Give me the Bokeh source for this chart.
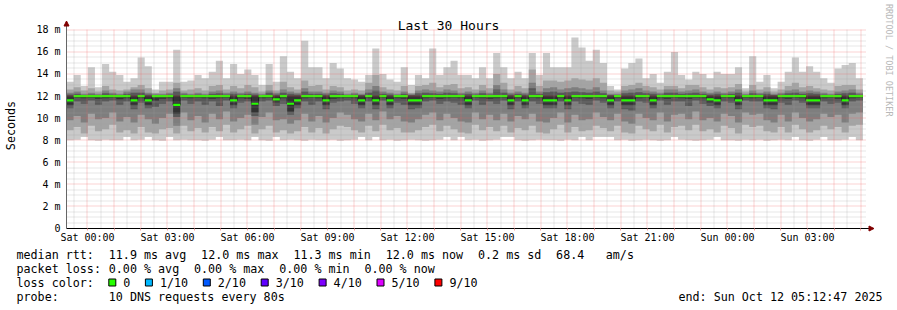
import numpy as np
from bokeh.plotting import figure
from bokeh.models import Range1d, FixedTicker, Arrow, NormalHead
from bokeh.core.properties import value
from bokeh.embed import file_html
from bokeh.resources import INLINE

# ---------------- data (hours relative to Sat 00:00) ----------------
END_HOURS = 29 + 12 / 60 + 47 / 3600          # Sun 05:12:47
START_HOURS = END_HOURS - 30                   # last 30 hours
STEP_HOURS = 16 / 60                           # one consolidated column

x_tick_hours = [0, 3, 6, 9, 12, 15, 18, 21, 24, 27]
x_tick_labels = ["Sat 00:00", "Sat 03:00", "Sat 06:00", "Sat 09:00", "Sat 12:00",
                 "Sat 15:00", "Sat 18:00", "Sat 21:00", "Sun 00:00", "Sun 03:00"]
y_tick_values = [0, 2, 4, 6, 8, 10, 12, 14, 16, 18]
y_tick_labels = ["0", "2 m", "4 m", "6 m", "8 m", "10 m", "12 m", "14 m", "16 m", "18 m"]

# sorted ping rtts per column (ms), p01 = fastest ... p10 = slowest
rtt_p10 = [13.3, 13.9, 12.9, 14.6, 12.8, 14.9, 14.2, 13.9, 13.3, 13.6, 15.5, 14.7, 12.6, 13.3, 13.3, 16.2,
           13.3, 13.4, 13.9, 13.6, 14.2, 15.2, 13.6, 14.9, 14.0, 14.4, 13.9, 13.0, 14.9, 13.3, 15.6, 14.2,
           13.6, 17.0, 14.6, 14.6, 13.6, 15.0, 14.5, 13.6, 13.5, 13.3, 13.9, 16.3, 14.0, 13.5, 13.3, 14.6,
           13.0, 13.9, 13.6, 16.3, 13.9, 14.6, 15.2, 13.9, 13.9, 13.6, 14.6, 13.6, 15.9, 14.6, 13.6, 14.2,
           13.6, 15.9, 13.9, 15.9, 14.6, 14.6, 14.6, 17.3, 16.4, 15.2, 16.2, 15.0, 12.9, 12.6, 14.5, 15.0,
           15.4, 13.6, 14.0, 13.2, 14.2, 16.0, 13.9, 13.5, 14.2, 14.0, 13.6, 14.2, 14.0, 14.0, 14.6, 12.7,
           15.6, 13.3, 13.9, 12.7, 13.3, 14.2, 15.5, 14.2, 14.7, 14.2, 13.6, 13.2, 14.5, 14.8, 15.0, 13.6]
rtt_p09 = [12.6, 12.8, 12.5, 12.7, 12.4, 12.9, 12.6, 12.5, 12.6, 12.8, 13.0, 12.7, 12.3, 12.5, 12.6, 13.2,
           12.5, 12.6, 12.7, 12.5, 12.9, 13.0, 12.6, 12.9, 12.7, 13.0, 12.8, 12.4, 13.0, 12.5, 13.3, 12.8,
           12.6, 13.4, 12.9, 13.0, 12.6, 12.9, 12.8, 12.5, 12.6, 12.5, 13.2, 13.9, 12.8, 12.6, 12.5, 12.9,
           12.3, 12.9, 13.0, 13.2, 12.8, 13.0, 13.1, 12.7, 12.8, 12.6, 13.0, 12.7, 14.0, 13.2, 12.6, 12.9,
           12.7, 14.4, 12.9, 13.4, 13.4, 13.3, 13.4, 13.6, 13.5, 13.4, 13.6, 13.2, 12.5, 12.4, 12.9, 13.0,
           13.2, 12.9, 12.8, 12.6, 12.9, 12.9, 12.7, 13.0, 13.0, 12.8, 12.6, 12.8, 12.7, 12.8, 13.1, 12.4,
           13.0, 12.6, 12.8, 12.4, 12.6, 12.9, 13.2, 12.8, 12.9, 12.7, 12.6, 12.5, 12.9, 13.0, 13.0, 12.6]
rtt_p08 = [12.3, 12.4, 12.2, 12.3, 12.2, 12.5, 12.3, 12.2, 12.4, 12.6, 12.6, 12.3, 12.2, 12.2, 12.3, 12.7,
           12.3, 12.2, 12.3, 12.2, 12.4, 12.5, 12.3, 12.4, 12.3, 12.4, 12.3, 12.2, 12.5, 12.3, 12.6, 12.4,
           12.3, 12.7, 12.4, 12.4, 12.3, 12.5, 12.4, 12.2, 12.3, 12.2, 12.6, 12.9, 12.4, 12.3, 12.2, 12.4,
           12.2, 12.5, 12.6, 12.5, 12.4, 12.6, 12.5, 12.3, 12.4, 12.3, 12.5, 12.3, 13.0, 12.6, 12.3, 12.4,
           12.3, 13.2, 12.4, 12.7, 12.8, 12.6, 12.7, 12.8, 12.7, 12.6, 12.8, 12.5, 12.2, 12.2, 12.5, 12.6,
           12.7, 12.5, 12.4, 12.3, 12.6, 12.6, 12.4, 12.5, 12.6, 12.4, 12.3, 12.4, 12.3, 12.4, 12.6, 12.2,
           12.5, 12.3, 12.4, 12.2, 12.3, 12.5, 12.6, 12.4, 12.5, 12.4, 12.3, 12.2, 12.4, 12.5, 12.6, 12.3]
rtt_p07 = [12.15, 12.2, 12.1, 12.15, 12.1, 12.25, 12.15, 12.1, 12.2, 12.3, 12.3, 12.15, 12.1, 12.1, 12.15, 12.4,
           12.15, 12.1, 12.15, 12.1, 12.2, 12.25, 12.15, 12.2, 12.15, 12.2, 12.15, 12.1, 12.3, 12.15, 12.3, 12.2,
           12.15, 12.4, 12.2, 12.2, 12.15, 12.25, 12.2, 12.1, 12.15, 12.1, 12.3, 12.5, 12.2, 12.15, 12.1, 12.2,
           12.1, 12.25, 12.3, 12.25, 12.2, 12.3, 12.25, 12.15, 12.2, 12.15, 12.25, 12.15, 12.6, 12.3, 12.15, 12.2,
           12.15, 12.7, 12.2, 12.35, 12.4, 12.3, 12.35, 12.4, 12.35, 12.3, 12.4, 12.25, 12.1, 12.1, 12.25, 12.3,
           12.35, 12.25, 12.2, 12.15, 12.3, 12.3, 12.2, 12.25, 12.3, 12.2, 12.15, 12.2, 12.15, 12.2, 12.3, 12.1,
           12.25, 12.15, 12.2, 12.1, 12.15, 12.25, 12.3, 12.2, 12.25, 12.2, 12.15, 12.1, 12.2, 12.25, 12.3, 12.15]
rtt_p06 = [12.05, 12.05, 12.05, 12.05, 12.05, 12.05, 12.05, 12.05, 12.05, 12.05, 12.05, 12.05, 12.05, 12.05, 12.05, 12.05,
           12.05, 12.05, 12.05, 12.05, 12.05, 12.05, 12.05, 12.05, 12.05, 12.05, 12.05, 12.05, 12.05, 12.05, 12.05, 12.05,
           12.05, 12.05, 12.05, 12.05, 12.05, 12.05, 12.05, 12.05, 12.05, 12.05, 12.05, 12.05, 12.05, 12.05, 12.05, 12.05,
           12.05, 12.05, 12.05, 12.05, 12.05, 12.05, 12.05, 12.05, 12.05, 12.05, 12.05, 12.05, 12.05, 12.05, 12.05, 12.05,
           12.05, 12.05, 12.05, 12.05, 12.05, 12.05, 12.05, 12.05, 12.05, 12.05, 12.05, 12.05, 12.05, 12.05, 12.05, 12.05,
           12.05, 12.05, 12.05, 12.05, 12.05, 12.05, 12.05, 12.05, 12.05, 12.05, 12.05, 12.05, 12.05, 12.05, 12.05, 12.05,
           12.05, 12.05, 12.05, 12.05, 12.05, 12.05, 12.05, 12.05, 12.05, 12.05, 12.05, 12.05, 12.05, 12.05, 12.05, 12.05]
rtt_p05 = [11.2, 11.85, 11.8, 11.85, 11.75, 11.8, 11.85, 11.7, 11.8, 11.2, 11.8, 11.2, 11.6, 11.75, 11.8, 10.4,
           11.85, 11.8, 11.85, 11.8, 11.75, 11.8, 11.85, 11.2, 11.8, 11.75, 10.5, 11.8, 11.85, 11.4, 11.8, 10.6,
           11.2, 11.8, 11.85, 11.8, 11.2, 11.75, 11.8, 11.85, 11.8, 11.2, 11.8, 11.2, 11.85, 11.2, 11.8, 11.75,
           11.2, 11.2, 11.8, 11.85, 11.75, 11.8, 11.85, 11.8, 11.2, 11.85, 11.8, 11.75, 11.8, 11.85, 11.2, 11.8,
           11.2, 11.85, 11.8, 11.2, 11.2, 11.8, 11.2, 11.85, 11.8, 11.75, 11.85, 11.8, 11.2, 11.8, 11.2, 11.2,
           11.8, 11.85, 11.2, 11.8, 11.75, 11.85, 11.8, 11.75, 11.85, 11.8, 11.4, 11.2, 11.85, 11.8, 11.2, 11.85,
           11.8, 11.85, 11.2, 11.2, 11.8, 11.75, 11.85, 11.8, 11.2, 11.2, 11.8, 11.85, 11.75, 11.2, 11.8, 11.85]
rtt_p04 = [10.9, 11.5, 11.3, 11.6, 11.2, 11.5, 11.6, 11.2, 11.5, 10.8, 11.4, 10.9, 11.0, 11.3, 11.5, 10.1,
           11.6, 11.3, 11.5, 11.2, 11.5, 11.1, 11.6, 10.9, 11.4, 11.5, 10.2, 11.5, 11.6, 11.1, 11.3, 10.3,
           10.9, 11.5, 11.2, 11.5, 10.8, 11.4, 11.5, 11.6, 11.3, 10.9, 11.5, 10.8, 11.6, 10.9, 11.4, 11.2,
           10.8, 10.9, 11.5, 11.6, 11.3, 11.5, 11.4, 11.2, 10.9, 11.6, 11.2, 11.5, 11.3, 11.6, 10.8, 11.5,
           10.9, 11.5, 11.3, 10.9, 10.9, 11.5, 10.8, 11.5, 11.3, 11.2, 11.6, 11.4, 10.9, 11.5, 10.8, 10.7,
           11.5, 11.4, 10.9, 11.6, 11.2, 11.5, 11.5, 11.1, 11.6, 11.3, 11.1, 10.9, 11.5, 11.4, 10.8, 11.6,
           11.5, 11.5, 10.9, 10.8, 11.4, 11.2, 11.6, 11.4, 10.9, 10.9, 11.5, 11.3, 11.4, 10.9, 11.5, 11.6]
rtt_p03 = [9.8, 10.2, 9.6, 10.4, 9.9, 10.0, 10.5, 9.7, 10.1, 9.6, 10.3, 9.9, 9.5, 10.0, 10.4, 9.3,
           10.5, 9.8, 10.2, 9.6, 10.4, 9.9, 10.6, 9.7, 10.0, 10.3, 9.4, 10.1, 10.5, 9.8, 9.9, 9.5,
           9.8, 10.4, 9.7, 10.2, 9.6, 10.0, 10.5, 10.3, 9.9, 9.7, 10.4, 9.8, 10.6, 9.9, 10.2, 9.7,
           9.6, 9.9, 10.3, 10.5, 9.8, 10.4, 10.0, 9.7, 9.6, 10.5, 9.9, 10.3, 9.8, 10.4, 9.7, 10.2,
           9.9, 10.4, 9.7, 9.6, 10.0, 10.5, 9.6, 10.3, 9.8, 9.9, 10.5, 10.1, 9.8, 10.4, 9.7, 9.5,
           10.4, 10.0, 9.8, 10.5, 9.7, 10.3, 10.4, 9.9, 10.6, 9.8, 10.0, 9.7, 10.4, 10.2, 9.6, 10.5,
           10.3, 10.4, 9.8, 9.6, 10.3, 9.7, 10.5, 10.0, 9.7, 9.9, 10.4, 10.1, 10.3, 9.6, 10.4, 10.5]
rtt_p02 = [8.9, 9.2, 8.6, 9.3, 8.8, 9.0, 9.4, 8.7, 8.9, 8.6, 9.2, 8.7, 8.6, 9.0, 9.1, 8.6,
           9.3, 8.8, 9.1, 8.7, 9.2, 8.8, 9.4, 8.7, 9.0, 9.3, 8.6, 9.0, 9.3, 8.7, 8.9, 8.6,
           8.8, 9.2, 8.7, 9.1, 8.6, 9.0, 9.3, 9.2, 8.9, 8.7, 9.3, 8.8, 9.4, 8.9, 9.1, 8.7,
           8.7, 8.9, 9.2, 9.4, 8.8, 9.3, 9.0, 8.7, 8.6, 9.4, 8.9, 9.2, 8.8, 9.3, 8.7, 9.1,
           8.9, 9.3, 8.7, 8.6, 9.0, 9.4, 8.7, 9.2, 8.8, 8.9, 9.3, 9.1, 8.8, 9.3, 8.7, 8.6,
           9.3, 9.0, 8.8, 9.4, 8.7, 9.2, 9.3, 8.9, 9.4, 8.8, 9.0, 8.7, 9.3, 9.1, 8.6, 9.4,
           9.2, 9.3, 8.8, 8.7, 9.2, 8.7, 9.4, 9.0, 8.7, 8.9, 9.3, 9.0, 9.2, 8.7, 9.3, 9.4]
rtt_p01 = [8.0, 8.05, 8.3, 8.0, 7.95, 8.05, 8.0, 8.0, 8.3, 8.0, 8.05, 8.3, 8.0, 7.95, 8.3, 8.0,
           8.05, 8.0, 8.0, 7.95, 8.05, 8.3, 8.0, 8.0, 8.05, 8.0, 8.3, 8.0, 7.95, 8.3, 8.0, 8.05,
           8.0, 7.95, 8.05, 8.0, 8.0, 8.05, 7.95, 8.0, 8.05, 8.3, 8.0, 8.3, 8.0, 8.05, 7.95, 8.0,
           8.05, 8.0, 7.95, 8.0, 8.05, 8.3, 8.0, 8.3, 8.0, 8.05, 7.95, 8.0, 8.05, 8.3, 8.3, 8.0,
           7.95, 8.0, 8.05, 8.0, 8.0, 7.95, 8.05, 8.0, 8.3, 8.0, 8.3, 8.3, 8.3, 8.0, 8.05, 7.95,
           8.0, 8.05, 8.0, 7.95, 8.0, 8.3, 8.05, 8.0, 7.95, 8.0, 8.05, 8.3, 8.0, 8.0, 7.95, 8.05,
           8.0, 8.05, 7.95, 8.0, 8.05, 8.0, 8.3, 8.0, 7.95, 8.05, 8.3, 8.0, 8.0, 8.05, 8.3, 8.0]
rtt_median = [11.6, 12.0, 12.0, 12.0, 12.0, 12.0, 12.0, 12.0, 12.0, 11.6, 12.0, 11.6, 12.0, 12.0, 12.0, 11.2,
              12.0, 12.0, 12.0, 12.0, 12.0, 12.0, 12.0, 11.6, 12.0, 12.0, 11.3, 12.0, 12.0, 11.7, 12.0, 11.3,
              11.6, 12.0, 12.0, 12.0, 11.6, 12.0, 12.0, 12.0, 12.0, 11.6, 12.0, 11.6, 12.0, 11.6, 12.0, 12.0,
              11.6, 11.6, 12.0, 12.0, 12.0, 12.0, 12.0, 12.0, 11.6, 12.0, 12.0, 12.0, 12.0, 12.0, 11.6, 12.0,
              11.6, 12.0, 12.0, 11.6, 11.6, 12.0, 11.6, 12.0, 12.0, 12.0, 12.0, 12.0, 11.6, 12.0, 11.6, 11.6,
              12.0, 12.0, 11.6, 12.0, 12.0, 12.0, 12.0, 12.0, 12.0, 12.0, 11.7, 11.6, 12.0, 12.0, 11.6, 12.0,
              12.0, 12.0, 11.6, 11.6, 12.0, 12.0, 12.0, 12.0, 11.6, 11.6, 12.0, 12.0, 12.0, 11.6, 12.0, 12.0]

# legend statistics
rtt_avg, rtt_max, rtt_min, rtt_now, rtt_sd, rtt_ams = 11.9, 12.0, 11.3, 12.0, 0.2, 68.4
loss_avg, loss_max, loss_min, loss_now = 0.00, 0.00, 0.00, 0.00
loss_labels = ["0", "1/10", "2/10", "3/10", "4/10", "5/10", "9/10"]
loss_colors = ["#26ff00", "#00b8ff", "#0059ff", "#5e00ff", "#7e00ff", "#dd00ff", "#ff0000"]
probe_text = "10 DNS requests every 80s"
end_text = "end: Sun Oct 12 05:12:47 2025"
title_text = "Last 30 Hours"

# ---------------- layout: the frame covers the whole canvas ----------------
MONO = "DejaVu Sans Mono"
SMOKE_COLORS = ["#cacaca", "#a4a4a4", "#7e7e7e", "#585858", "#323232"]
W, H = 897, 310
GX0, GX1, GY0, GY1 = 66, 866, 228, 29.3    # graph area in canvas pixels (0 .. 18 ms)
Y_TOP = 18
PX_PER_H = (GX1 - GX0) / 30
PX_PER_MS = (GY0 - GY1) / Y_TOP

def hx(px):   # canvas px -> hours
    return START_HOURS + (px - GX0) / PX_PER_H

def vy(py):   # canvas px -> ms
    return (GY0 - py) / PX_PER_MS

def snap_h(h):   # put a 1px line on a pixel centre
    px = GX0 + (h - START_HOURS) * PX_PER_H
    return hx(np.floor(px) + 0.5)

def snap_ms(v):
    py = GY0 - v * PX_PER_MS
    return vy(np.floor(py) + 0.5)

p = figure(width=W, height=H, x_range=Range1d(hx(0), hx(W)), y_range=Range1d(vy(H), vy(0)),
           output_backend="svg", toolbar_location=None, min_border=0, title=None)
p.outline_line_color = None
p.background_fill_color = "white"
p.border_fill_color = "white"
p.xgrid.visible = False
p.ygrid.visible = False

# smoke
n = len(rtt_median)
edges = START_HOURS + STEP_HOURS * np.arange(n + 1)

def ext(a):
    a = np.asarray(a, dtype=float)
    return np.append(a, a[-1])

lows = [rtt_p01, rtt_p02, rtt_p03, rtt_p04, rtt_p05]
highs = [rtt_p10, rtt_p09, rtt_p08, rtt_p07, rtt_p06]
for lo, hi, col in zip(lows, highs, SMOKE_COLORS):
    p.varea_step(x=edges, y1=ext(lo), y2=ext(hi), step_mode="after", fill_color=col)

med = ext(rtt_median)
p.step(x=edges, y=med, mode="after", line_color="#202020", line_width=1)
p.varea_step(x=edges, y1=med - 0.1, y2=med + 0.1, step_mode="after", fill_color=loss_colors[0])

# rrdtool-style dotted grid on top of the graph
hour_major = [snap_h(h) for h in range(0, 30) if h <= END_HOURS]
hour_minor = [snap_h(h + 0.5) for h in range(-1, 29) if START_HOURS <= h + 0.5 <= END_HOURS]
ms_major = [snap_ms(v) for v in [2, 4, 6, 8, 10, 12, 14, 16, 18]]
ms_minor = [snap_ms(0.5 * k) for k in range(1, 37) if k % 4 != 0]

p.segment(x0=hour_minor, x1=hour_minor, y0=0, y1=Y_TOP, line_color="#a0a0a0",
          line_alpha=0.5, line_dash="1 1", line_width=1)
p.segment(x0=START_HOURS, x1=END_HOURS, y0=ms_minor, y1=ms_minor, line_color="#a0a0a0",
          line_alpha=0.5, line_dash="1 1", line_width=1)
p.segment(x0=hour_major, x1=hour_major, y0=0, y1=Y_TOP, line_color="#f06060",
          line_alpha=0.55, line_dash="1 1", line_width=1)
p.segment(x0=START_HOURS, x1=END_HOURS, y0=ms_major, y1=ms_major, line_color="#f06060",
          line_alpha=0.55, line_dash="1 1", line_width=1)

# axes, fixed at the graph origin
p.xaxis.fixed_location = 0
p.xaxis.bounds = (START_HOURS, hx(870))
p.xaxis.ticker = FixedTicker(ticks=x_tick_hours,
                             minor_ticks=[h for h in range(0, 30) if h % 3 != 0])
p.xaxis.major_label_overrides = dict(zip(x_tick_hours, x_tick_labels))
p.xaxis.axis_line_color = "#000000"
p.xaxis.major_tick_out = 2
p.xaxis.major_tick_in = 0
p.xaxis.minor_tick_out = 2
p.xaxis.minor_tick_in = 0
p.xaxis.major_tick_line_color = "#f4a0a0"
p.xaxis.minor_tick_line_color = "#f4a0a0"
p.xaxis.major_label_standoff = 1

p.yaxis.fixed_location = START_HOURS
p.yaxis.bounds = (0, vy(23))
p.yaxis.ticker = FixedTicker(ticks=y_tick_values, minor_ticks=[])
p.yaxis.major_label_overrides = dict(zip(y_tick_values, y_tick_labels))
p.yaxis.axis_line_color = "#666666"
p.yaxis.major_tick_out = 0
p.yaxis.major_tick_in = 0
p.yaxis.minor_tick_out = 0
p.yaxis.minor_tick_in = 0
p.yaxis.major_label_standoff = 6

for ax in (p.xaxis, p.yaxis):
    ax.major_label_text_font = MONO
    ax.major_label_text_font_size = "10px"
    ax.major_label_text_color = "#000000"

# axis arrows
p.add_layout(Arrow(x_start=hx(866), y_start=0, x_end=hx(873.5), y_end=0, line_alpha=0,
                   end=NormalHead(size=5, fill_color="#800000", line_color="#800000")))
p.add_layout(Arrow(x_start=START_HOURS, y_start=vy(27), x_end=START_HOURS, y_end=vy(20.5),
                   line_alpha=0,
                   end=NormalHead(size=5, fill_color="#800000", line_color="#800000")))

# title, unit label and watermark
p.text(x=[hx(448)], y=[vy(24.5)], text=[title_text], text_font=value(MONO),
       text_font_size="13px", text_align="center", text_baseline="alphabetic", text_color="#000000")
p.text(x=[hx(10.5)], y=[vy(125)], text=["Seconds"], text_font=value(MONO),
       text_font_size="11.7px", text_align="center", text_baseline="middle",
       angle=np.pi / 2, text_color="#000000")
p.text(x=[hx(888.5)], y=[vy(3.5)], text=["RRDTOOL / TOBI OETIKER"], text_font=value(MONO),
       text_font_size="8.5px", text_align="left", text_baseline="middle",
       angle=-np.pi / 2, text_color="#b8b8b8")

# ---------------- legend ----------------
CW = 7.1
X_LEFT = 16
rows_py = [254, 268, 282, 296]

line1 = [("median rtt:", 0), (f"{rtt_avg:.1f} ms avg", 13), (f"{rtt_max:.1f} ms max", 26),
         (f"{rtt_min:.1f} ms min", 39), (f"{rtt_now:.1f} ms now", 52),
         (f"{rtt_sd:.1f} ms sd", 65), (f"{rtt_ams:.1f}", 76), ("am/s", 83)]
line2 = [("packet loss:", 0), (f"{loss_avg:.2f} % avg", 13), (f"{loss_max:.2f} % max", 25),
         (f"{loss_min:.2f} % min", 37), (f"{loss_now:.2f} % now", 49)]
line3 = [("loss color:", 0)]
line4 = [("probe:", 0), (probe_text, 13)]

tx, ty, tt = [], [], []
for row, items in enumerate([line1, line2, line3, line4]):
    for txt, col in items:
        tx.append(hx(X_LEFT + col * CW))
        ty.append(vy(rows_py[row]))
        tt.append(txt)

box_left_px = []
cursor = 108.3
for lab in loss_labels:
    box_left_px.append(cursor)
    tx.append(hx(cursor + 14.5))
    ty.append(vy(rows_py[2]))
    tt.append(lab)
    cursor += 14.5 + len(lab) * CW + 15

tx.append(hx(678))
ty.append(vy(rows_py[3]))
tt.append(end_text)

p.text(x=tx, y=ty, text=tt, text_font=value(MONO), text_font_size="11.7px",
       text_align="left", text_baseline="middle", text_color="#000000")

bl = np.array(box_left_px)
p.quad(left=[hx(v) for v in bl], right=[hx(v + 7) for v in bl],
       top=[vy(rows_py[2] - 3.5)] * len(bl), bottom=[vy(rows_py[2] + 3.5)] * len(bl),
       fill_color=loss_colors, line_color="#000000", line_width=1)

open("out.html", "w").write(file_html(p, INLINE))
